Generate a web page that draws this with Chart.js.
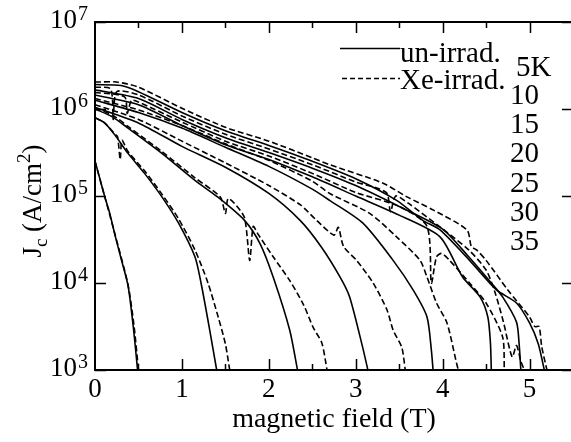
<!DOCTYPE html>
<html>
<head>
<meta charset="utf-8">
<script src="https://cdn.jsdelivr.net/npm/chart.js@4.4.1/dist/chart.umd.min.js"></script>
<style>
  html, body { margin: 0; padding: 0; background: #fff; overflow: hidden; }
  canvas { display: block; }
</style>
</head>
<body>
<canvas id="jcChart" width="574" height="442"></canvas>
<script>
// Jc(B) curves, [field (T), Jc (A/cm^2)]
const un5K = [[0, 1.91e6], [0.3, 1.86e6], [0.5, 1.58e6], [1.0, 9.12e5], [1.5, 5.62e5], [2.0, 3.8e5], [2.5, 2.51e5], [3.0, 1.58e5], [3.47, 8.91e4], [3.77, 5.25e4], [3.97, 4.07e4], [4.31, 1.82e4], [4.62, 8.32e3], [4.85, 5.89e3], [5.0, 3.47e3], [5.1, 2.0e3], [5.17, 1.0e3]];
const xe5K = [[0, 2.04e6], [0.25, 2.04e6], [0.5, 1.78e6], [1.0, 1.02e6], [1.5, 6.17e5], [2.0, 4.27e5], [2.5, 2.75e5], [2.7, 2.29e5], [3.31, 1.41e5], [3.59, 9.77e4], [3.89, 6.92e4], [4.28, 4.07e4], [4.33, 2.63e4], [4.39, 2.4e4], [4.5, 1.82e4], [4.75, 8.32e3], [5.0, 4.07e3], [5.06, 3.16e3], [5.11, 3.16e3], [5.14, 1.86e3], [5.2, 1.0e3]];
const un10K = [[0, 1.66e6], [0.5, 1.32e6], [1.0, 7.59e5], [1.5, 4.68e5], [2.0, 3.16e5], [2.5, 2.09e5], [3.0, 1.32e5], [3.5, 7.59e4], [4.0, 4.17e4], [4.3, 2.0e4], [4.56, 1.0e4], [4.69, 6.92e3], [4.85, 3.55e3], [4.88, 2.0e3], [4.9, 1.0e3]];
const xe10K = [[0, 1.78e6], [0.18, 1.7e6], [0.21, 7.59e5], [0.25, 1.58e6], [0.5, 1.45e6], [1.0, 8.32e5], [1.5, 5.13e5], [2.0, 3.47e5], [2.5, 2.29e5], [3.0, 1.45e5], [3.35, 1.1e5], [3.4, 6.61e4], [3.46, 1.0e5], [3.6, 8.32e4], [4.0, 4.17e4], [4.3, 2.4e4], [4.5, 1.41e4], [4.6, 7.94e3], [4.7, 3.55e3], [4.8, 1.41e3], [4.85, 1.91e3], [4.9, 1.26e3], [4.94, 1.0e3]];
const un15K = [[0, 1.45e6], [0.5, 1.12e6], [1.0, 6.46e5], [1.5, 3.89e5], [2.0, 2.63e5], [2.5, 1.66e5], [3.0, 1.0e5], [3.5, 6.03e4], [3.97, 3.39e4], [4.23, 1.17e4], [4.43, 6.92e3], [4.52, 4.07e3], [4.55, 2.04e3], [4.56, 1.0e3]];
const xe15K = [[0, 1.55e6], [0.34, 1.38e6], [0.37, 8.91e5], [0.42, 1.26e6], [0.5, 1.2e6], [1.0, 7.08e5], [1.5, 4.27e5], [2.0, 2.88e5], [2.5, 1.82e5], [3.0, 1.1e5], [3.5, 7.59e4], [3.82, 4.47e4], [3.87, 1.0e4], [3.93, 2.0e4], [3.99, 2.19e4], [4.08, 1.82e4], [4.31, 1.0e4], [4.5, 5.89e3], [4.69, 2.4e3], [4.71, 1.0e3]];
const un20K = [[0, 1.26e6], [0.5, 9.12e5], [1.0, 6.03e5], [1.5, 3.63e5], [2.0, 2.19e5], [2.5, 1.2e5], [2.7, 8.91e4], [3.08, 4.9e4], [3.43, 1.82e4], [3.66, 8.32e3], [3.82, 4.07e3], [3.87, 1.7e3], [3.89, 1.0e3]];
const xe20K = [[0, 1.32e6], [0.5, 9.77e5], [1.0, 6.46e5], [1.5, 3.98e5], [2.0, 2.57e5], [2.5, 1.48e5], [2.7, 1.07e5], [3.16, 6.31e4], [3.47, 3.39e4], [3.74, 1.82e4], [3.82, 1.17e4], [3.93, 5.89e3], [4.05, 3.47e3], [4.16, 1.2e3], [4.18, 1.0e3]];
const un25K = [[0, 1.05e6], [0.5, 6.92e5], [1.0, 3.72e5], [1.5, 2.14e5], [2.0, 1.07e5], [2.36, 5.25e4], [2.6, 2.63e4], [2.82, 1.17e4], [2.93, 6.92e3], [3.08, 1.82e3], [3.14, 1.0e3]];
const xe25K = [[0, 1.12e6], [0.5, 7.59e5], [1.0, 4.27e5], [1.5, 2.4e5], [2.0, 1.32e5], [2.36, 7.94e4], [2.55, 5.25e4], [2.75, 3.55e4], [2.8, 4.37e4], [2.86, 2.63e4], [3.01, 1.82e4], [3.2, 1.0e4], [3.36, 4.9e3], [3.43, 2.88e3], [3.53, 1.82e3], [3.57, 1.0e3]];
const un30K = [[0, 1.0e6], [0.2, 8.13e5], [0.38, 6.03e5], [0.77, 3.09e5], [1.15, 1.51e5], [1.41, 9.77e4], [1.72, 5.25e4], [1.9, 2.82e4], [2.05, 1.17e4], [2.24, 2.88e3], [2.33, 1.0e3]];
const xe30K = [[0, 1.02e6], [0.2, 8.51e5], [0.38, 6.31e5], [0.77, 3.24e5], [1.15, 1.62e5], [1.44, 9.77e4], [1.5, 6.31e4], [1.53, 9.33e4], [1.6, 8.32e4], [1.72, 5.62e4], [1.78, 1.82e4], [1.82, 4.47e4], [1.87, 3.72e4], [2.05, 2.0e4], [2.24, 1.07e4], [2.4, 5.62e3], [2.51, 3.09e3], [2.61, 2.04e3], [2.67, 1.0e3]];
const un35K = [[0, 7.94e5], [0.11, 6.92e5], [0.23, 5.01e5], [0.38, 3.09e5], [0.57, 1.82e5], [0.77, 9.77e4], [0.96, 4.9e4], [1.15, 2.0e4], [1.22, 1.0e4], [1.32, 2.88e3], [1.4, 1.0e3]];
const xe35K = [[0, 7.94e5], [0.11, 6.92e5], [0.23, 5.13e5], [0.26, 4.79e5], [0.29, 2.63e5], [0.31, 4.37e5], [0.38, 3.24e5], [0.57, 1.95e5], [0.77, 1.05e5], [0.96, 5.5e4], [1.15, 2.4e4], [1.3, 1.0e4], [1.42, 3.98e3], [1.5, 2.0e3], [1.55, 1.0e3]];
const un38K = [[0, 2.51e5], [0.05, 1.66e5], [0.11, 1.0e5], [0.17, 6.31e4], [0.23, 3.55e4], [0.3, 1.91e4], [0.38, 9.33e3], [0.44, 3.16e3], [0.49, 1.0e3]];
const xe38K = [[0, 2.51e5], [0.11, 1.0e5], [0.23, 3.63e4], [0.38, 9.55e3], [0.45, 3.16e3], [0.5, 1.0e3]];

const solidCurves = [un5K, un10K, un15K, un20K, un25K, un30K, un35K, un38K];
const dashedCurves = [xe5K, xe10K, xe15K, xe20K, xe25K, xe30K, xe35K, xe38K];

const fieldTicks = [0, 1, 2, 3, 4, 5];
const jcTickExps = [3, 4, 5, 6, 7];
const tempLabels = ["5K", "10", "15", "20", "25", "30", "35"];
const legendLabels = ["un-irrad.", "Xe-irrad."];

const SERIF = "'Liberation Serif', 'Times New Roman', serif";

const toPoints = (curve) => curve.map(([b, jc]) => ({ x: b, y: jc }));

const datasets = [];
solidCurves.forEach((c) => {
  datasets.push({ data: toPoints(c), borderColor: "#000", borderWidth: 1.6, borderDash: [] });
});
dashedCurves.forEach((c) => {
  datasets.push({ data: toPoints(c), borderColor: "#000", borderWidth: 1.6, borderDash: [6, 3] });
});

// frame, inward ticks and all the text
const decorations = {
  id: "decorations",
  afterDraw(chart) {
    const { ctx, chartArea: a } = chart;
    const xs = chart.scales.x;
    const ys = chart.scales.y;
    ctx.save();
    ctx.strokeStyle = "#000";
    ctx.fillStyle = "#000";

    ctx.lineWidth = 2;
    ctx.strokeRect(a.left, a.top, a.right - a.left, a.bottom - a.top);

    // x ticks every 0.5 T, longer on whole numbers
    ctx.lineWidth = 1.5;
    for (let v = 0.5; v < xs.max; v += 0.5) {
      const px = Math.round(xs.getPixelForValue(v)) + 0.5;
      const len = Number.isInteger(v) ? 11 : 6;
      ctx.beginPath();
      ctx.moveTo(px, a.bottom);
      ctx.lineTo(px, a.bottom - len);
      ctx.moveTo(px, a.top);
      ctx.lineTo(px, a.top + len);
      ctx.stroke();
    }
    jcTickExps.forEach((e) => {
      const py = Math.round(ys.getPixelForValue(Math.pow(10, e))) + 0.5;
      ctx.beginPath();
      ctx.moveTo(a.left, py);
      ctx.lineTo(a.left + 11, py);
      ctx.moveTo(a.right, py);
      ctx.lineTo(a.right - 11, py);
      ctx.stroke();
    });

    // x tick labels
    ctx.font = "27px " + SERIF;
    ctx.textAlign = "center";
    ctx.textBaseline = "alphabetic";
    fieldTicks.forEach((v) => {
      ctx.fillText(String(v), xs.getPixelForValue(v), a.bottom + 27);
    });

    // y tick labels 10^n
    jcTickExps.forEach((e) => {
      const py = ys.getPixelForValue(Math.pow(10, e));
      ctx.font = "20px " + SERIF;
      const ew = ctx.measureText(String(e)).width;
      const right = a.left - 7;
      ctx.textAlign = "left";
      ctx.fillText(String(e), right - ew, py - 2);
      ctx.font = "27px " + SERIF;
      ctx.textAlign = "right";
      ctx.fillText("10", right - ew - 1, py + 6);
    });

    // x title
    ctx.font = "28px " + SERIF;
    ctx.textAlign = "center";
    ctx.fillText("magnetic field (T)", (a.left + a.right) / 2, 427);

    // y title J_c (A/cm^2), rotated
    const parts = [
      { t: "J", size: 27, dy: 0 },
      { t: "c", size: 19, dy: 6 },
      { t: " (A/cm", size: 27, dy: 0 },
      { t: "2", size: 19, dy: -11 },
      { t: ")", size: 27, dy: 0 },
    ];
    let total = 0;
    parts.forEach((p) => {
      ctx.font = p.size + "px " + SERIF;
      p.w = ctx.measureText(p.t).width;
      total += p.w;
    });
    ctx.translate(41, 201);
    ctx.rotate(-Math.PI / 2);
    ctx.textAlign = "left";
    let cx = -total / 2;
    parts.forEach((p) => {
      ctx.font = p.size + "px " + SERIF;
      ctx.fillText(p.t, cx, p.dy);
      cx += p.w;
    });
    ctx.setTransform(1, 0, 0, 1, 0, 0);

    // legend
    ctx.lineWidth = 1.6;
    ctx.beginPath();
    ctx.moveTo(340, 48.5);
    ctx.lineTo(400, 48.5);
    ctx.stroke();
    ctx.setLineDash([5, 3]);
    ctx.beginPath();
    ctx.moveTo(342, 78.5);
    ctx.lineTo(400, 78.5);
    ctx.stroke();
    ctx.setLineDash([]);
    ctx.font = "29px " + SERIF;
    ctx.textAlign = "left";
    ctx.fillText(legendLabels[0], 400, 62);
    ctx.fillText(legendLabels[1], 400, 89);

    // temperature labels
    ctx.font = "29px " + SERIF;
    const tempBase = [76, 104, 133, 162, 192, 221, 250];
    tempLabels.forEach((t, i) => {
      ctx.fillText(t, i === 0 ? 516 : 510, tempBase[i]);
    });
    ctx.restore();
  },
};

new Chart(document.getElementById("jcChart"), {
  type: "scatter",
  data: { datasets },
  options: {
    responsive: false,
    animation: false,
    events: [],
    showLine: true,
    layout: { padding: { left: 95, top: 22, right: 1, bottom: 72 } },
    elements: { point: { radius: 0 }, line: { tension: 0.25 } },
    scales: {
      x: { type: "linear", min: 0, max: 5.5, display: false },
      y: { type: "logarithmic", min: 1e3, max: 1e7, display: false },
    },
    plugins: { legend: { display: false }, tooltip: { enabled: false } },
  },
  plugins: [decorations],
});
</script>
</body>
</html>
